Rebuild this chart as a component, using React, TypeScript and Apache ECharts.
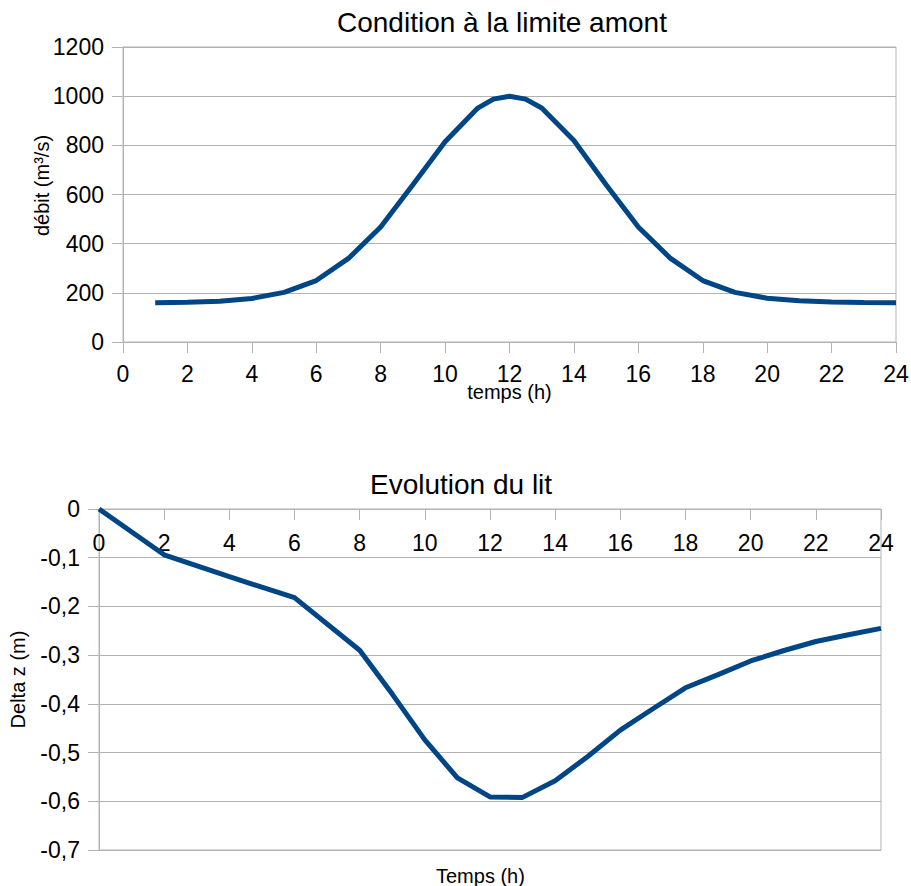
import React, { useEffect, useRef } from "react";
import * as echarts from "echarts";

const debitHours = [1, 2, 3, 4, 5, 6, 7, 8, 9, 10, 11, 11.5, 12, 12.5, 13, 14, 15, 16, 17, 18, 19, 20, 21, 22, 23, 24];
const debitValues = [160, 162, 166, 177, 202, 250, 340, 468, 640, 815, 950, 988, 1000, 988, 952, 820, 640, 468, 340, 250, 202, 178, 168, 163, 161, 160];

const litHours = [0, 2, 4, 6, 8, 9, 10, 11, 12, 13, 14, 15, 16, 17, 18, 19, 20, 21, 22, 23, 24];
const litValues = [0, -0.094, -0.139, -0.182, -0.29, -0.38, -0.474, -0.552, -0.591, -0.592, -0.558, -0.508, -0.454, -0.41, -0.367, -0.34, -0.312, -0.291, -0.272, -0.258, -0.245];

const titleTop = "Condition à la limite amont";
const titleBottom = "Evolution du lit";
const xNameBottom = "Temps (h)";

const FONT = "Liberation Sans";
const GRID_COLOR = "#b3b3b3";
const LINE_COLOR = "#004586";

export default function App() {
  const ref = useRef<HTMLDivElement>(null);
  useEffect(() => {
    if (!ref.current) return;
    const chart = echarts.init(ref.current, undefined, { renderer: "svg" });
    const axisCommon = {
      nameMoveOverlap: false,
      axisLine: { show: true, onZero: false, lineStyle: { color: GRID_COLOR, width: 1 } },
      axisTick: { show: true, length: 11, lineStyle: { color: GRID_COLOR, width: 1 } },
      axisLabel: { color: "#000", fontSize: 23, fontFamily: FONT, formatter: (v: number) => String(v) },
      nameTextStyle: { color: "#000", fontSize: 20, fontFamily: FONT },
    };
    chart.setOption({
      animation: false,
      backgroundColor: "#fff",
      title: [
        {
          text: titleTop,
          left: 337,
          top: 8,
          padding: 0,
          textStyle: { fontSize: 28, fontWeight: "normal", color: "#000", fontFamily: FONT },
        },
        {
          text: titleBottom,
          left: 370,
          top: 470,
          padding: 0,
          textStyle: { fontSize: 28, fontWeight: "normal", color: "#000", fontFamily: FONT },
        },
      ],
      graphic: [
        {
          type: "text",
          left: 436,
          top: 866,
          style: { text: xNameBottom, fontSize: 20, fontFamily: FONT, fill: "#000" },
        },
      ],
      grid: [
        { left: 123, top: 47, width: 773, height: 295, show: true, borderColor: GRID_COLOR, borderWidth: 1, containLabel: false, outerBoundsMode: "none" },
        { left: 99, top: 509, width: 782, height: 341, show: true, borderColor: GRID_COLOR, borderWidth: 1, containLabel: false, outerBoundsMode: "none" },
      ],
      xAxis: [
        {
          ...axisCommon,
          gridIndex: 0,
          type: "value",
          position: "bottom",
          min: 0,
          max: 24,
          interval: 2,
          splitLine: { show: false },
          axisLabel: { ...axisCommon.axisLabel, margin: 20 },
          name: "temps (h)",
          nameLocation: "middle",
          nameGap: 40,
        },
        {
          ...axisCommon,
          gridIndex: 1,
          type: "value",
          position: "top",
          min: 0,
          max: 24,
          interval: 2,
          splitLine: { show: false },
          axisTick: { ...axisCommon.axisTick, inside: true },
          axisLabel: { ...axisCommon.axisLabel, inside: true, margin: 22 },
        },
      ],
      yAxis: [
        {
          ...axisCommon,
          gridIndex: 0,
          type: "value",
          min: 0,
          max: 1200,
          interval: 200,
          splitLine: { show: true, lineStyle: { color: GRID_COLOR, width: 1 } },
          axisLabel: { ...axisCommon.axisLabel, margin: 19 },
          name: "débit (m³/s)",
          nameLocation: "middle",
          nameGap: 71,
          nameTextStyle: { ...axisCommon.nameTextStyle, padding: [0, 0, 0, 18] },
        },
        {
          ...axisCommon,
          gridIndex: 1,
          type: "value",
          min: -0.7,
          max: 0,
          interval: 0.1,
          splitLine: { show: true, lineStyle: { color: GRID_COLOR, width: 1 } },
          axisLabel: {
            ...axisCommon.axisLabel,
            margin: 19,
            formatter: (v: number) => (Math.abs(v) < 1e-9 ? "0" : v.toFixed(1).replace(".", ",")),
          },
          name: "Delta z (m)",
          nameLocation: "middle",
          nameGap: 71,
        },
      ],
      series: [
        {
          type: "line",
          xAxisIndex: 0,
          yAxisIndex: 0,
          data: debitHours.map((h, i) => [h, debitValues[i]]),
          showSymbol: false,
          symbol: "none",
          lineStyle: { color: LINE_COLOR, width: 5 },
        },
        {
          type: "line",
          xAxisIndex: 1,
          yAxisIndex: 1,
          data: litHours.map((h, i) => [h, litValues[i]]),
          showSymbol: false,
          symbol: "none",
          lineStyle: { color: LINE_COLOR, width: 5 },
        },
      ],
    });
    return () => chart.dispose();
  }, []);
  return (
    <div
      ref={ref}
      style={{ position: "absolute", left: 0, top: 0, width: 911, height: 886, background: "#fff" }}
    />
  );
}
